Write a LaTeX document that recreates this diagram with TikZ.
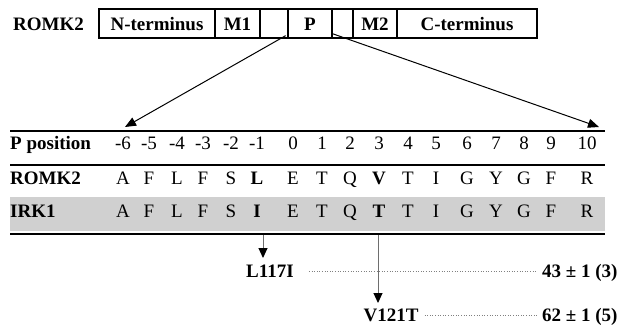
\documentclass[tikz,border=0pt]{standalone}
\usepackage{fontspec}
\setmainfont{Liberation Serif}
\usetikzlibrary{arrows.meta,calc}
\definecolor{bandgray}{RGB}{208,208,208}
\definecolor{stemgray}{RGB}{110,110,110}
\begin{document}
\begin{tikzpicture}[x=1pt,y=-1pt,
  every node/.style={inner sep=0pt,text height=13pt,text depth=0pt},
  seg/.style={draw,line width=1.3pt,minimum height=29pt,font=\bfseries},
  rowlabel/.style={anchor=west,font=\bfseries},
  rule/.style={line width=2pt},
  zoomarrow/.style={line width=1pt,-{Triangle[length=11pt,width=9pt]}},
  mutarrow/.style={line width=1pt,draw=stemgray,-{Triangle[length=10pt,width=9pt,fill=black,color=black]}},
  leader/.style={line width=0.6pt,dotted,draw=gray}
]
\fontsize{19}{22}\selectfont
\useasboundingbox (0,0) rectangle (632,325);

% domain map of the channel
\node[rowlabel] (prot) at (13,23.5) {ROMK2};
\node[seg,minimum width=116pt] (nterm) at (157,23.5) {N-terminus};
\node[seg,minimum width=45pt]  (m1)    at (237.5,23.5) {M1};
\node[seg,minimum width=28pt]  (e1)    at (274,23.5) {};
\node[seg,minimum width=44pt]  (pore)  at (310,23.5) {P};
\node[seg,minimum width=21pt]  (e2)    at (342.5,23.5) {};
\node[seg,minimum width=44pt]  (m2)    at (375,23.5) {M2};
\node[seg,minimum width=140pt] (cterm) at (467,23.5) {C-terminus};

% expansion of the pore region
\coordinate (tipL) at (125,127);
\coordinate (tipR) at (599,127);
\draw[zoomarrow] ($(e1.south east)+(-3,-3)$) -- (tipL);
\draw[zoomarrow] ($(e2.south west)+(1,-5)$) -- (tipR);

% alignment table
\fill[bandgray] (10,197) rectangle (605,231);
\draw[rule] (10,131) -- (605,131);
\draw[rule] (10,165) -- (605,165);
\draw[rule] (10,234) -- (605,234);

\node[rowlabel] (hpos)  at (10,143) {P position};
\node[rowlabel] (hromk) at (10,178) {ROMK2};
\node[rowlabel] (hirk)  at (10,211) {IRK1};

\foreach \x/\n/\a/\b [count=\i] in {
  123/-6/A/A, 149/-5/F/F, 177/-4/L/L, 203/-3/F/F, 231/-2/S/S,
  257/-1/\textbf{L}/\textbf{I}, 293/0/E/E, 322/1/T/T, 350/2/Q/Q,
  379/3/\textbf{V}/\textbf{T}, 408/4/T/T, 436/5/I/I, 467/6/G/G,
  496/7/Y/Y, 524/8/G/G, 551/9/F/F, 587/10/R/R} {
  \node (num\i) at (\x,143) {\n};
  \node (r\i)   at (\x,178) {\a};
  \node (k\i)   at (\x,211) {\b};
}

% mutations and their values
\node[font=\bfseries] (mut1) at (270,271) {L117I};
\node[font=\bfseries] (mut2) at (391,315) {V121T};
\node[font=\bfseries,anchor=west] (val1) at (542,271) {43 ± 1 (3)};
\node[font=\bfseries,anchor=west] (val2) at (542,315) {62 ± 1 (5)};

\coordinate (stem1) at (263,235);
\coordinate (stem2) at (378,235);
\draw[mutarrow] (stem1) -- (stem1 |- 0,258);
\draw[mutarrow] (stem2) -- (stem2 |- 0,303);

\draw[leader,shorten <=15pt,shorten >=5pt] (mut1.east) -- (val1.west);
\draw[leader,shorten <=6pt,shorten >=5pt] (mut2.east) -- (val2.west);
\end{tikzpicture}
\end{document}
